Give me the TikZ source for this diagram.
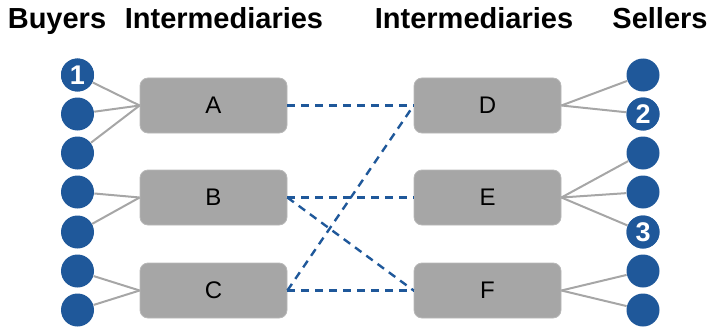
\documentclass[tikz,border=0pt]{standalone}
\usepackage{fontspec}
\setmainfont{Liberation Sans}
\definecolor{dotblue}{RGB}{31,88,154}
\definecolor{boxgray}{RGB}{166,166,166}
\tikzset{
	party/.style={circle, fill=dotblue, inner sep=0pt, minimum size=16.5pt, text=white, font=\bfseries\fontsize{13.5}{14}\selectfont},
	broker/.style={rectangle, rounded corners=4pt, fill=boxgray, draw=boxgray!80!white, line width=0.4pt, minimum width=73.5pt, minimum height=27.5pt, font=\fontsize{12}{13}\selectfont},
	tie/.style={draw=boxgray, line width=1pt},
	deal/.style={draw=dotblue, line width=1.2pt, dash pattern=on 4pt off 3pt},
	header/.style={anchor=base, font=\bfseries\fontsize{14.5}{16}\selectfont}
}
\begin{document}
\begin{tikzpicture}[x=0.5pt, y=-0.5pt]
		\useasboundingbox (0,0) rectangle (710,326);

		\node[header] (hbuy) at (57,29) {Buyers};
		\node[header] (hleft) at (224,29) {Intermediaries};
		\node[header] (hright) at (474,29) {Intermediaries};
		\node[header] (hsell) at (660,29) {Sellers};

		% buyers and sellers
		\foreach \i/\y in {1/75, 2/114, 3/153, 4/192, 5/232, 6/271, 7/310} {
			\node[party] (b\i) at (77.5,\y) {};
			\node[party] (s\i) at (643,\y) {};
		}
		\node[party] at (b1) {1};
		\node[party] at (s2) {2};
		\node[party] at (s5) {3};

		% intermediaries
		\node[broker] (A) at (213.5,105.5) {A};
		\node[broker] (B) at (213.5,197.5) {B};
		\node[broker] (C) at (213.5,290.5) {C};
		\node[broker] (D) at (487.5,105.5) {D};
		\node[broker] (E) at (487.5,197.5) {E};
		\node[broker] (F) at (487.5,290.5) {F};

		\foreach \i in {1,2,3} \draw[tie] (b\i) -- (A.west);
		\foreach \i in {4,5} \draw[tie] (b\i) -- (B.west);
		\foreach \i in {6,7} \draw[tie] (b\i) -- (C.west);
		\foreach \i in {1,2} \draw[tie] (s\i) -- (D.east);
		\foreach \i in {3,4,5} \draw[tie] (s\i) -- (E.east);
		\foreach \i in {6,7} \draw[tie] (s\i) -- (F.east);

		\draw[deal] (A.east) -- (D.west);
		\draw[deal] (C.east) -- (D.west);
		\draw[deal] (B.east) -- (E.west);
		\draw[deal] (B.east) -- (F.west);
		\draw[deal] (C.east) -- (F.west);

	\end{tikzpicture}
\end{document}
